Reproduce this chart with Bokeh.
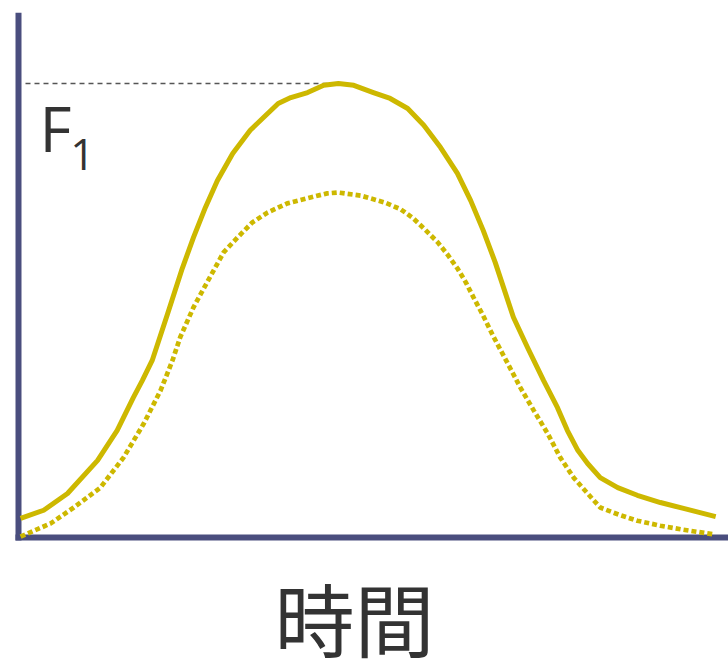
from bokeh.plotting import figure
from bokeh.models import Range1d, Label
from bokeh.embed import file_html
from bokeh.resources import INLINE

# Force over time: full curve (solid) and reduced curve (dotted)
t_full = [0.3, 3.6, 7.0, 11.3, 14.1, 16.4, 17.7, 19.1, 21.3, 23.4, 25.0, 26.7, 28.4,
          30.6, 33.1, 35.0, 37.1, 38.9, 41.3, 43.6, 45.7, 47.9, 50.7, 53.1, 55.6,
          57.9, 60.3, 62.7, 64.6, 66.4, 68.1, 70.7, 72.7, 75.0, 77.0, 78.4, 79.9,
          81.3, 83.1, 85.6, 88.4, 91.7, 95.0, 99.6]
f_full = [4.2, 6.0, 9.7, 17.0, 23.6, 30.8, 34.6, 39.0, 49.3, 59.3, 66.1, 72.7, 78.6,
          84.6, 89.7, 92.5, 95.6, 96.9, 98.0, 99.6, 100.0, 99.6, 98.0, 96.7, 94.5,
          90.8, 85.9, 80.2, 74.2, 67.6, 60.6, 48.5, 41.9, 34.6, 28.6, 23.6, 19.2,
          16.3, 13.2, 11.0, 9.3, 7.7, 6.4, 4.6]

t_reduced = [0.3, 4.6, 7.9, 11.7, 15.0, 17.9, 20.3, 22.0, 23.1, 25.0, 27.4, 29.3, 31.3,
             33.4, 35.6, 38.4, 41.7, 44.1, 45.6, 48.9, 52.3, 54.6, 56.4, 58.1, 59.9,
             61.3, 62.7, 63.9, 65.0, 66.3, 67.9, 69.9, 71.7, 73.6, 75.6, 77.4, 79.3,
             81.3, 83.1, 86.0, 88.4, 91.7, 94.6, 99.3]
f_reduced = [0.2, 3.1, 6.6, 11.0, 17.6, 25.1, 32.4, 39.0, 44.1, 50.7, 57.5, 62.8, 66.1,
             69.4, 71.6, 73.6, 74.9, 75.8, 76.0, 75.3, 73.8, 72.3, 70.3, 67.8, 65.0,
             62.3, 59.3, 56.2, 52.9, 49.1, 44.1, 38.3, 33.0, 28.0, 22.9, 17.6, 13.2,
             9.7, 6.6, 4.9, 3.7, 2.6, 1.8, 0.7]

peak_label = "F"
peak_sub = "1"
x_label = "時間"

# axis extents in data units
t_axis = (-0.43, 101.43)
f_axis = (-0.66, 115.6)

CURVE = "#CDB800"
AXIS = "#4A4E7E"
TEXT = "#333333"

p = figure(width=728, height=664, output_backend="svg", toolbar_location=None,
           x_range=Range1d(-18 / 7, 710 / 7), y_range=Range1d(-127 / 4.54, 537 / 4.54),
           x_axis_location=None, y_axis_location=None, min_border=0)
p.grid.visible = False
p.outline_line_color = None
p.background_fill_color = "white"
p.border_fill_color = "white"

# axes
p.line([0, 0], list(f_axis), line_color=AXIS, line_width=6)
p.line(list(t_axis), [0, 0], line_color=AXIS, line_width=6)

# peak reference line
i_peak = f_full.index(max(f_full))
p.line([1.0, t_full[i_peak]], [f_full[i_peak], f_full[i_peak]],
       line_color="#555555", line_width=1.3, line_dash="5 4")

p.line(t_full, f_full, line_color=CURVE, line_width=5, line_join="round")
p.line(t_reduced, f_reduced, line_color=CURVE, line_width=4.7, line_dash="5 3",
       line_cap="butt")

p.add_layout(Label(x=3.0, y=90.1, text=peak_label, text_font="Open Sans",
                   text_font_size="62px", text_color=TEXT,
                   text_baseline="alphabetic", text_align="left"))
p.add_layout(Label(x=7.4, y=84.4, text=peak_sub, text_font="Open Sans",
                   text_font_size="43px", text_color=TEXT,
                   text_baseline="alphabetic", text_align="left"))
p.add_layout(Label(x=48.0, y=-17.2, text=x_label, text_font="Noto Sans CJK JP",
                   text_font_size="80px", text_color=TEXT,
                   text_baseline="middle", text_align="center"))

open("out.html", "w").write(file_html(p, INLINE))
